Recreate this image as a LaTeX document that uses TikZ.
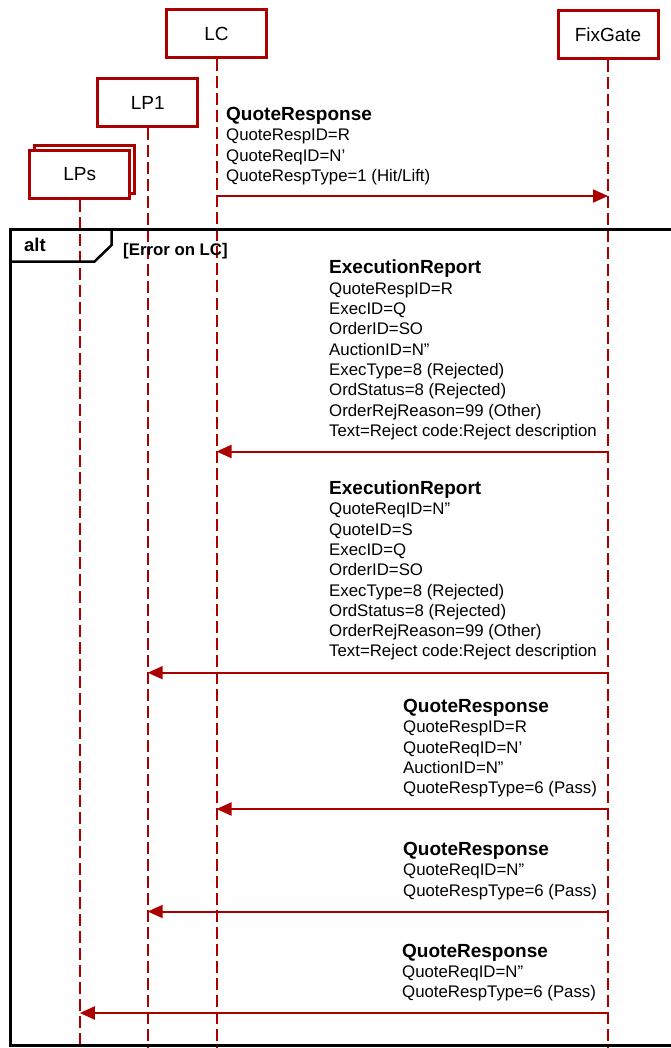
\documentclass[tikz,border=0pt]{standalone}
\usepackage{fontspec}
\setmainfont{Liberation Sans}
\usetikzlibrary{arrows.meta}
\definecolor{dred}{RGB}{170,0,0}
\newcommand\msgblock[5]{%
  \node[ttl] (#1-t) at (#2,#3) {#4};
  \foreach \l [count=\i] in {#5} {\node[txt] (#1-\i) at (#2,#3+20.3*\i) {\l};}%
}
\begin{document}
\begin{tikzpicture}[x=1pt,y=-1pt,
  actor/.style={draw=dred,line width=3pt,fill=white,minimum width=100pt,minimum height=48pt,inner sep=0pt,font=\fontsize{19}{22}\selectfont},
  lifeline/.style={draw=dred,line width=2pt,dash pattern=on 12pt off 5pt},
  msgarrow/.style={draw=dred,line width=2pt,-{Triangle[length=15pt,width=13pt]}},
  txt/.style={anchor=base west,inner sep=0pt,font=\fontsize{16.8}{20}\selectfont},
  ttl/.style={anchor=base west,inner sep=0pt,font=\fontsize{19}{22}\selectfont\bfseries},
  altline/.style={draw=black,line width=2.5pt},
]
\useasboundingbox (0,0) rectangle (671,1048);
% actors
\node[actor] (LC) at (216.5,34) {LC};
\node[actor] (FG) at (608,34.7) {FixGate};
\node[actor] (LP1) at (147.7,102.5) {LP1};
\node[actor] (LPsb) at (84.5,169.5) {};
\node[actor] (LPs) at (79.8,174.5) {LPs};
% lifeline ends
\coordinate (LCe) at (216.5,1048);
\coordinate (FGe) at (608,1048);
\coordinate (LP1e) at (147.7,1048);
\coordinate (LPse) at (79.8,1048);
\draw[lifeline] (LC.south) -- (LCe);
\draw[lifeline] (FG.south) -- (FGe);
\draw[lifeline] (LP1.south) -- (LP1e);
\draw[lifeline] (LPs.south) -- (LPse);
% alt frame
\draw[altline] (10.7,229.3) rectangle (690,1045.7);
\draw[altline] (10.7,229.3) -- (111.7,229.3) -- (111.7,245) -- (94.3,261.7) -- (10.7,261.7);
\node[anchor=base west,inner sep=0pt,font=\fontsize{18.5}{20}\selectfont\bfseries] (altlbl) at (24,252) {alt};
\node[anchor=base west,inner sep=0pt,font=\fontsize{16.8}{20}\selectfont\bfseries] (guard) at (123,256) {[Error on LC]};
% message anchor points
\coordinate (m1s) at (216.5,196); \coordinate (m1e) at (608,196);
\coordinate (m2s) at (608,451.5); \coordinate (m2e) at (216.5,451.5);
\coordinate (m3s) at (608,672.7); \coordinate (m3e) at (147.7,672.7);
\coordinate (m4s) at (608,809); \coordinate (m4e) at (216.5,809);
\coordinate (m5s) at (608,911.5); \coordinate (m5e) at (147.7,911.5);
\coordinate (m6s) at (608,1013); \coordinate (m6e) at (79.8,1013);
\draw[msgarrow] (m1s) -- (m1e);
\draw[msgarrow] (m2s) -- (m2e);
\draw[msgarrow] (m3s) -- (m3e);
\draw[msgarrow] (m4s) -- (m4e);
\draw[msgarrow] (m5s) -- (m5e);
\draw[msgarrow] (m6s) -- (m6e);
% message texts
\msgblock{t1}{226}{120.5}{QuoteResponse}{QuoteRespID=R,QuoteReqID=N’,QuoteRespType=1 (Hit/Lift)}
\msgblock{t2}{329}{274}{ExecutionReport}{QuoteRespID=R,ExecID=Q,OrderID=SO,AuctionID=N”,ExecType=8 (Rejected),OrdStatus=8 (Rejected),OrderRejReason=99 (Other),Text=Reject code:Reject description}
\msgblock{t3}{329}{494.5}{ExecutionReport}{QuoteReqID=N”,QuoteID=S,ExecID=Q,OrderID=SO,ExecType=8 (Rejected),OrdStatus=8 (Rejected),OrderRejReason=99 (Other),Text=Reject code:Reject description}
\msgblock{t4}{403}{712.5}{QuoteResponse}{QuoteRespID=R,QuoteReqID=N’,AuctionID=N”,QuoteRespType=6 (Pass)}
\msgblock{t5}{403}{855.5}{QuoteResponse}{QuoteReqID=N”,QuoteRespType=6 (Pass)}
\msgblock{t6}{402}{957}{QuoteResponse}{QuoteReqID=N”,QuoteRespType=6 (Pass)}
\end{tikzpicture}
\end{document}
